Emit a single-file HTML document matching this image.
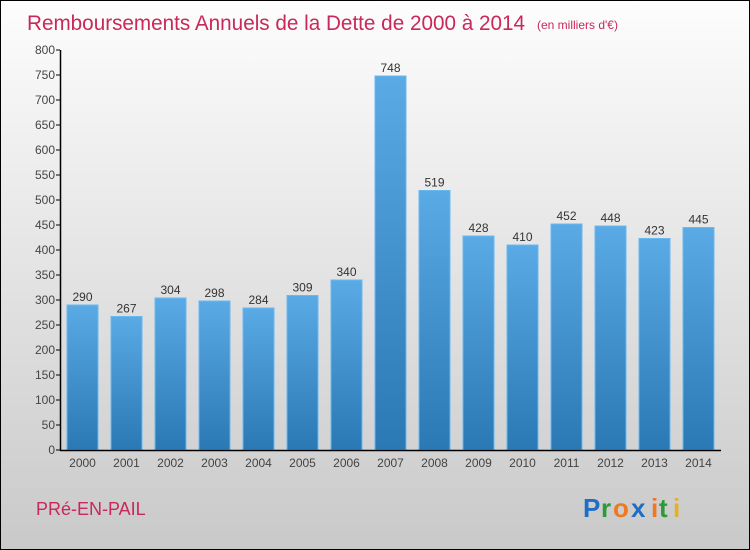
<!DOCTYPE html>
<html><head><meta charset="utf-8"><style>
body{margin:0}
#c{width:748px;height:548px;border:1px solid #000;position:relative;background:linear-gradient(#fdfdfd,#c9c9c9);font-family:"Liberation Sans",sans-serif;overflow:hidden}
</style></head><body>
<div id="c">
<svg width="748" height="548" id="s">
<defs><linearGradient id="g" x1="0" y1="0" x2="0" y2="1"><stop offset="0" stop-color="#5aaae6"/><stop offset="1" stop-color="#2a78b4"/></linearGradient></defs>
<text x="26" y="29" font-size="21" fill="#c8285a" textLength="498" lengthAdjust="spacingAndGlyphs">Remboursements Annuels de la Dette de 2000 à 2014</text>
<text x="536" y="28" font-size="12" fill="#c8285a">(en milliers d'€)</text>
<text x="35" y="514" font-size="18" fill="#c8285a">PRé-EN-PAIL</text>
<g font-size="26" font-weight="bold" font-family="'Liberation Sans',sans-serif"><text x="582" y="516" fill="#1e6ec8">P</text><text x="600" y="516" fill="#2a9a3a">r</text><text x="612" y="516" fill="#f07820">o</text><text x="630" y="516" fill="#1e6ec8">x</text><text x="650" y="516" fill="#f07820">i</text><text x="658" y="516" fill="#2a9a3a">t</text><text x="672" y="516" fill="#e8b020">i</text></g>
<g id="plot"></g>
</svg></div>
<script>
const years=["2000","2001","2002","2003","2004","2005","2006","2007","2008","2009","2010","2011","2012","2013","2014"];
const values=[290,267,304,298,284,309,340,748,519,428,410,452,448,423,445];
const ticks=[0,50,100,150,200,250,300,350,400,450,500,550,600,650,700,750,800];
const ns="http://www.w3.org/2000/svg",g=document.getElementById('plot');
const y=v=>449-v*0.5, x=i=>66+i*44;
function el(t,a){const e=document.createElementNS(ns,t);for(const k in a)e.setAttribute(k,a[k]);g.appendChild(e);return e;}
ticks.forEach(t=>{
const l=el('line',{x1:55,x2:59,y1:y(t),y2:y(t),stroke:'#000'});


const tx=el('text',{x:54,y:y(t)+4,'font-size':12,fill:'#444','text-anchor':'end'});tx.textContent=t;


});
values.forEach((v,i)=>{
const r=el('rect',{x:x(i),y:y(v),width:31,height:v*0.5,fill:'url(#g)',stroke:'#6ab8f0','stroke-width':1});


const t=el('text',{x:x(i)+15.5,y:y(v)-4,'font-size':12,fill:'#333','text-anchor':'middle'});t.textContent=v;


const xl=el('text',{x:x(i)+15.5,y:466,'font-size':12,fill:'#444','text-anchor':'middle'});xl.textContent=years[i];


});
const ya=el('line',{x1:59.5,x2:59.5,y1:y(800),y2:450,stroke:'#000','stroke-width':1.5});


const xa=el('line',{x1:59,x2:720,y1:449.5,y2:449.5,stroke:'#000','stroke-width':1.5});


</script>
</body></html>
